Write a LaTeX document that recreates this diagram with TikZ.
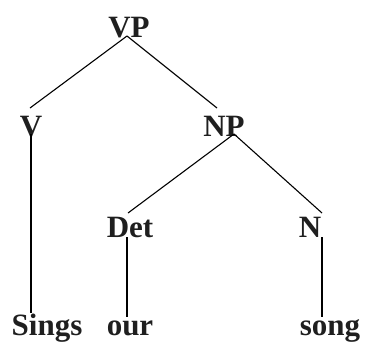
\documentclass[tikz,border=0pt]{standalone}
\usepackage{fontspec}
\setmainfont{Liberation Serif}
\begin{document}
\begin{tikzpicture}[x=1pt,y=-1pt,
  lbl/.style={inner sep=0pt,anchor=base,font=\fontsize{31}{31}\selectfont\bfseries,text=black!88},
  edge/.style={line width=1.1pt,black}]
\useasboundingbox (0,0) rectangle (366,346);
\node[lbl] (VP) at (129,37) {VP};
\node[lbl] (V) at (31,136) {V};
\node[lbl] (NP) at (224,136) {NP};
\node[lbl] (Det) at (130,237) {Det};
\node[lbl] (N) at (310,237) {N};
\node[lbl] (Sings) at (47,335) {Sings};
\node[lbl] (our) at (130,335) {our};
\node[lbl] (song) at (330,335) {song};
\draw[edge] ([shift={(-2,-1)}]VP.base) -- ([shift={(-1,-28)}]V.base);
\draw[edge] ([shift={(-2,-1)}]VP.base) -- ([shift={(-7,-28)}]NP.base);
\draw[edge] ([shift={(0,-2)}]V.base) -- ([shift={(-16,-22)}]Sings.base);
\draw[edge] ([shift={(10,-2)}]NP.base) -- ([shift={(-2,-24)}]Det.base);
\draw[edge] ([shift={(10,-2)}]NP.base) -- ([shift={(12,-24)}]N.base);
\draw[edge] ([shift={(-3,0)}]Det.base) -- ([shift={(-3,-18)}]our.base);
\draw[edge] ([shift={(12,0)}]N.base) -- ([shift={(-8,-18)}]song.base);
\end{tikzpicture}
\end{document}
